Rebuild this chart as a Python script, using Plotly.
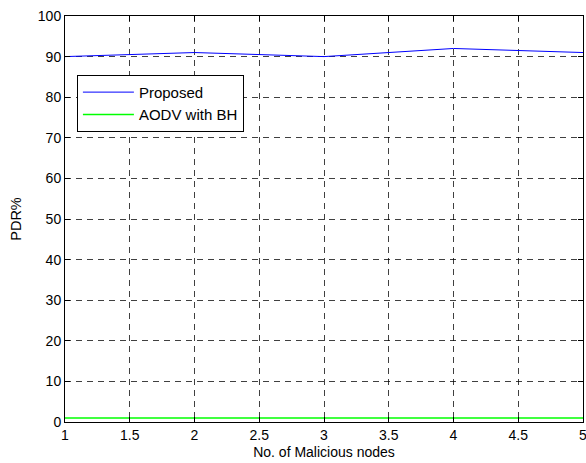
import plotly.graph_objects as go

x_nodes = [1, 2, 3, 4, 5]
pdr_proposed = [90, 91, 90, 92, 91]
pdr_aodv_bh = [1, 1, 1, 1, 1]
x_ticks = [1, 1.5, 2, 2.5, 3, 3.5, 4, 4.5, 5]
y_ticks = [0, 10, 20, 30, 40, 50, 60, 70, 80, 90, 100]

FONT = "Liberation Sans, Arial, Helvetica, sans-serif"

fig = go.Figure()
fig.add_trace(go.Scatter(x=x_nodes, y=pdr_proposed, mode="lines", name="Proposed",
                         line=dict(color="#0000ff", width=1)))
fig.add_trace(go.Scatter(x=x_nodes, y=pdr_aodv_bh, mode="lines", name="AODV with BH",
                         line=dict(color="#00ff00", width=1.5)))

axis_common = dict(
    showline=True, linecolor="black", linewidth=1, mirror="ticks",
    ticks="inside", ticklen=5, tickcolor="black",
    showgrid=True, gridcolor="rgba(0,0,0,0.75)", gridwidth=1, griddash="6px,5px",
    zeroline=False, automargin=False, ticklabeloverflow="allow",
    tickfont=dict(family=FONT, size=14, color="black"),
)

fig.update_xaxes(range=[1, 5], tickvals=x_ticks, ticktext=[str(v) for v in x_ticks],
                 title=dict(text="No. of Malicious nodes", standoff=5,
                            font=dict(family=FONT, size=14, color="black")),
                 **axis_common)
fig.update_yaxes(range=[0, 100], tickvals=y_ticks,
                 title=dict(text="PDR%", standoff=12,
                            font=dict(family=FONT, size=14.5, color="black")),
                 **axis_common)

fig.update_layout(
    width=586, height=463,
    margin=dict(l=65, r=3, t=16, b=41),
    plot_bgcolor="white", paper_bgcolor="white",
    legend=dict(x=0.023, y=0.855, xanchor="left", yanchor="top",
                bordercolor="black", borderwidth=1, bgcolor="white",
                font=dict(family=FONT, size=15, color="black"),
                tracegroupgap=0, itemwidth=51),
    showlegend=True,
)

fig.write_html("out.html", config={"displayModeBar": False},
               post_script="document.body.style.margin='0';document.body.style.overflow='hidden';")
